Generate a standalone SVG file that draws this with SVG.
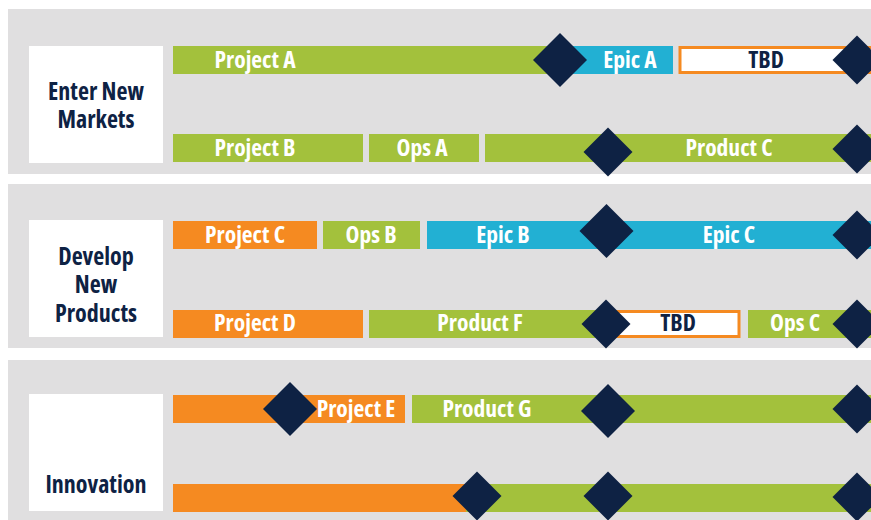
<svg xmlns="http://www.w3.org/2000/svg" xmlns:xlink="http://www.w3.org/1999/xlink" width="871" height="520" viewBox="0 0 871 520">
  <style>
    .panel { fill: #e0dfe0; }
    .label { fill: #ffffff; }
    .green { fill: #a3c13c; }
    .blue { fill: #22b0d3; }
    .orange { fill: #f58a21; }
    .tbd { fill: #ffffff; stroke: #f58a21; stroke-width: 3; }
    .ms { fill: #0e2244; }
    text { font-family: "Open Sans", "Liberation Sans", sans-serif; font-weight: 700; font-stretch: condensed; font-size: 23.5px; text-anchor: middle; }
    .bt { fill: #ffffff; }
    .dt { fill: #0e2244; }
    .lt { font-size: 24px; }
  </style>
  <defs>
    <polygon id="dLg" points="0,-27 27,0 0,27 -27,0"/>
    <polygon id="dSm" points="0,-24.5 24.5,0 0,24.5 -24.5,0"/>
  </defs>

  <!-- lane backgrounds -->
  <g id="lanes">
    <rect class="panel" x="8" y="9" width="863" height="165"/>
    <rect class="panel" x="8" y="184" width="863" height="164"/>
    <rect class="panel" x="8" y="360" width="863" height="160"/>
  </g>

  <!-- lane titles -->
  <g id="lane-enter-new-markets">
    <rect class="label" x="29" y="46" width="134" height="117"/>
    <text class="dt lt" x="96" y="100">Enter New</text>
    <text class="dt lt" x="96" y="128">Markets</text>
  </g>
  <g id="lane-develop-new-products">
    <rect class="label" x="29" y="220" width="134" height="117"/>
    <text class="dt lt" x="96" y="265">Develop</text>
    <text class="dt lt" x="96" y="293">New</text>
    <text class="dt lt" x="96" y="322">Products</text>
  </g>
  <g id="lane-innovation">
    <rect class="label" x="29" y="394" width="134" height="117"/>
    <text class="dt lt" x="96" y="493">Innovation</text>
  </g>

  <!-- Enter New Markets bars -->
  <g id="project-a"><rect class="green" x="173" y="46" width="390" height="28"/><text class="bt" x="255" y="68">Project A</text></g>
  <g id="epic-a"><rect class="blue" x="560" y="46" width="113" height="28"/><text class="bt" x="630" y="68">Epic A</text></g>
  <g id="tbd-1"><rect class="tbd" x="680" y="47.5" width="200" height="25"/><text class="dt" x="766" y="68">TBD</text></g>
  <g id="project-b"><rect class="green" x="173" y="134" width="190" height="28"/><text class="bt" x="255" y="156">Project B</text></g>
  <g id="ops-a"><rect class="green" x="369" y="134" width="110" height="28"/><text class="bt" x="422" y="156">Ops A</text></g>
  <g id="product-c"><rect class="green" x="485" y="134" width="386" height="28"/><text class="bt" x="729" y="156">Product C</text></g>

  <!-- Develop New Products bars -->
  <g id="project-c"><rect class="orange" x="173" y="221" width="144" height="28"/><text class="bt" x="245" y="243">Project C</text></g>
  <g id="ops-b"><rect class="green" x="323" y="221" width="97" height="28"/><text class="bt" x="371" y="243">Ops B</text></g>
  <g id="epic-b"><rect class="blue" x="427" y="221" width="180" height="28"/><text class="bt" x="503" y="243">Epic B</text></g>
  <g id="epic-c"><rect class="blue" x="606" y="221" width="265" height="28"/><text class="bt" x="729" y="243">Epic C</text></g>
  <g id="project-d"><rect class="orange" x="173" y="310" width="190" height="28"/><text class="bt" x="255" y="331">Project D</text></g>
  <g id="product-f"><rect class="green" x="369" y="310" width="240" height="28"/><text class="bt" x="480" y="331">Product F</text></g>
  <g id="tbd-2"><rect class="tbd" x="606" y="311.5" width="133" height="25"/><text class="dt" x="678" y="331">TBD</text></g>
  <g id="ops-c"><rect class="green" x="748" y="310" width="123" height="28"/><text class="bt" x="795" y="331">Ops C</text></g>

  <!-- Innovation bars -->
  <g id="project-e"><rect class="orange" x="173" y="395" width="232" height="28"/><text class="bt" x="356" y="417">Project E</text></g>
  <g id="product-g"><rect class="green" x="412" y="395" width="459" height="28"/><text class="bt" x="487" y="417">Product G</text></g>
  <g id="innovation-run-1"><rect class="orange" x="173" y="484" width="300" height="28"/></g>
  <g id="innovation-run-2"><rect class="green" x="466" y="484" width="405" height="28"/></g>

  <!-- milestones -->
  <g id="milestones" class="ms">
    <use xlink:href="#dLg" x="560" y="60"/>
    <use xlink:href="#dSm" x="857" y="60"/>
    <use xlink:href="#dSm" x="608" y="152"/>
    <use xlink:href="#dSm" x="857" y="149"/>
    <use xlink:href="#dLg" x="606.5" y="231"/>
    <use xlink:href="#dSm" x="857" y="235"/>
    <use xlink:href="#dSm" x="606" y="324"/>
    <use xlink:href="#dSm" x="857" y="324"/>
    <use xlink:href="#dLg" x="290" y="409"/>
    <use xlink:href="#dLg" x="608" y="411"/>
    <use xlink:href="#dSm" x="857" y="409"/>
    <use xlink:href="#dSm" x="477" y="496"/>
    <use xlink:href="#dSm" x="608" y="496"/>
    <use xlink:href="#dSm" x="857" y="497"/>
  </g>
</svg>
